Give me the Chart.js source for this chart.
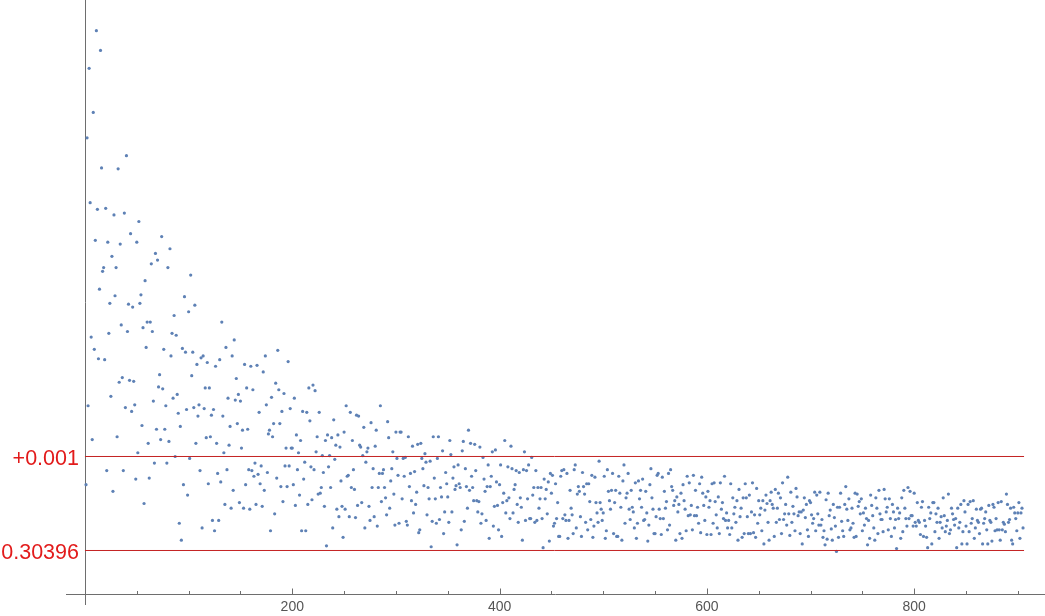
<!DOCTYPE html>
<html>
<head>
<meta charset="utf-8">
<title>Convergence scatter</title>
<script src="https://cdn.jsdelivr.net/npm/chart.js@4/dist/chart.umd.min.js"></script>
<style>
  html, body { margin: 0; padding: 0; background: #fff; }
</style>
</head>
<body>
<canvas id="chart" width="1045" height="616"></canvas>
<script>
// one value per step (steps 1..905)
const values = [
  0.30466, 0.30835, 0.30550, 0.30909, 0.30766, 0.30623, 0.30514, 0.30862, 0.30610, 0.30726,
  0.30949, 0.30759, 0.30600, 0.30674, 0.30928, 0.30803, 0.30693, 0.30697, 0.30599, 0.30760,
  0.30481, 0.30724, 0.30627, 0.30659, 0.30560, 0.30709, 0.30459, 0.30753, 0.30667, 0.30697,
  0.30517, 0.30802, 0.30575, 0.30722, 0.30636, 0.30580, 0.30481, 0.30755, 0.30548, 0.30816,
  0.30629, 0.30658, 0.30577, 0.30733, 0.30544, 0.30655, 0.30576, 0.30551, 0.30472, 0.30724,
  0.30500, 0.30746, 0.30659, 0.30668, 0.30529, 0.30633, 0.30446, 0.30683, 0.30612, 0.30639,
  0.30510, 0.30473, 0.30639, 0.30701, 0.30629, 0.30555, 0.30489, 0.30712, 0.30525, 0.30705,
  0.30570, 0.30583, 0.30514, 0.30730, 0.30568, 0.30610, 0.30525, 0.30550, 0.30489, 0.30697,
  0.30512, 0.30717, 0.30603, 0.30627, 0.30558, 0.30646, 0.30496, 0.30625, 0.30562, 0.30542, 0.30425,

  0.30528, 0.30407, 0.30611, 0.30466, 0.30666, 0.30607, 0.30546, 0.30455, 0.30650, 0.30494,
  0.30689, 0.30582, 0.30607, 0.30548, 0.30657, 0.30510, 0.30594, 0.30539, 0.30551, 0.30481,
  0.30601, 0.30420, 0.30603, 0.30547, 0.30569, 0.30516, 0.30596, 0.30467, 0.30569, 0.30517,
  0.30540, 0.30428, 0.30546, 0.30417, 0.30592, 0.30510, 0.30478, 0.30428, 0.30599, 0.30469,
  0.30639, 0.30539, 0.30500, 0.30445, 0.30612, 0.30482, 0.30558, 0.30508, 0.30528, 0.30441,
  0.30603, 0.30460, 0.30620, 0.30556, 0.30579, 0.30531, 0.30562, 0.30447, 0.30555, 0.30505,
  0.30524, 0.30441, 0.30594, 0.30466, 0.30569, 0.30525, 0.30482, 0.30440, 0.30592, 0.30481,
  0.30567, 0.30475, 0.30489, 0.30445, 0.30593, 0.30477, 0.30543, 0.30467, 0.30486, 0.30443,
  0.30586, 0.30460, 0.30603, 0.30551, 0.30479, 0.30520, 0.30524, 0.30417, 0.30559, 0.30517,
  0.30531, 0.30435, 0.30574, 0.30473,

  0.30609, 0.30567, 0.30531, 0.30464, 0.30544, 0.30448, 0.30563, 0.30486, 0.30505, 0.30464,
  0.30597, 0.30486, 0.30547, 0.30505, 0.30505, 0.30466, 0.30558, 0.30444, 0.30519, 0.30482,
  0.30500, 0.30455, 0.30513, 0.30417, 0.30544, 0.30472, 0.30490, 0.30417, 0.30543, 0.30445,
  0.30569, 0.30534, 0.30485, 0.30450, 0.30572, 0.30482, 0.30566, 0.30501, 0.30517, 0.30456,
  0.30543, 0.30457, 0.30463, 0.30497, 0.30479, 0.30443, 0.30513, 0.30401, 0.30519, 0.30485,
  0.30497, 0.30463, 0.30516, 0.30420, 0.30535, 0.30493, 0.30508, 0.30440, 0.30519, 0.30432,
  0.30506, 0.30470, 0.30443, 0.30410, 0.30522, 0.30440, 0.30550, 0.30475, 0.30476, 0.30432,
  0.30543, 0.30463, 0.30513, 0.30482, 0.30461, 0.30431, 0.30540, 0.30444, 0.30539, 0.30508,
  0.30506, 0.30447, 0.30497, 0.30527, 0.30420, 0.30490, 0.30501, 0.30505, 0.30443, 0.30428,
  0.30532,

  0.30463, 0.30483, 0.30432, 0.30507, 0.30524, 0.30422, 0.30463, 0.30478, 0.30550, 0.30448,
  0.30478, 0.30482, 0.30463, 0.30452, 0.30434, 0.30533, 0.30516, 0.30441, 0.30470, 0.30483,
  0.30501, 0.30456, 0.30423, 0.30522, 0.30494, 0.30476, 0.30425, 0.30522, 0.30522, 0.30451,
  0.30494, 0.30475, 0.30495, 0.30427, 0.30423, 0.30517, 0.30464, 0.30478, 0.30449, 0.30507,
  0.30436, 0.30480, 0.30445, 0.30458, 0.30509, 0.30415, 0.30418, 0.30510, 0.30494, 0.30483,
  0.30465, 0.30499, 0.30490, 0.30434, 0.30463, 0.30451, 0.30491, 0.30400, 0.30427, 0.30517,
  0.30473, 0.30451, 0.30425, 0.30494, 0.30517, 0.30429, 0.30463, 0.30453, 0.30502, 0.30414,
  0.30437, 0.30479, 0.30467, 0.30453, 0.30426, 0.30513, 0.30498, 0.30437, 0.30473, 0.30485,
  0.30461, 0.30465, 0.30402, 0.30487, 0.30467, 0.30463, 0.30418, 0.30502, 0.30512, 0.30427,
  0.30483,

  0.30464, 0.30441, 0.30524, 0.30460, 0.30510, 0.30475, 0.30463, 0.30449, 0.30509, 0.30481,
  0.30449, 0.30437, 0.30448, 0.30506, 0.30425, 0.30435, 0.30495, 0.30472, 0.30459, 0.30428,
  0.30464, 0.30487, 0.30409, 0.30464, 0.30475, 0.30501, 0.30422, 0.30443, 0.30503, 0.30469,
  0.30444, 0.30418, 0.30466, 0.30487, 0.30411, 0.30447, 0.30457, 0.30513, 0.30436, 0.30449,
  0.30485, 0.30452, 0.30430, 0.30507, 0.30483, 0.30436, 0.30461, 0.30466, 0.30481, 0.30445,
  0.30426, 0.30479, 0.30452, 0.30442, 0.30407, 0.30482, 0.30501, 0.30428, 0.30481, 0.30451,
  0.30487, 0.30430, 0.30430, 0.30495, 0.30455, 0.30463, 0.30426, 0.30481, 0.30428, 0.30463,
  0.30441, 0.30451, 0.30463, 0.30430, 0.30399, 0.30472, 0.30451, 0.30461, 0.30435, 0.30469,
  0.30406, 0.30478, 0.30457, 0.30476, 0.30422, 0.30425, 0.30467, 0.30430, 0.30447, 0.30411,

  0.30411, 0.30475, 0.30481, 0.30430, 0.30482, 0.30434, 0.30428, 0.30478, 0.30409, 0.30428,
  0.30460, 0.30441, 0.30434, 0.30414, 0.30482, 0.30487, 0.30420, 0.30456, 0.30464, 0.30459,
  0.30432, 0.30411, 0.30479, 0.30464, 0.30456, 0.30426, 0.30467, 0.30418, 0.30467, 0.30448,
  0.30429, 0.30476, 0.30410, 0.30422, 0.30474, 0.30447, 0.30436, 0.30426, 0.30491, 0.30447,
  0.30440, 0.30428, 0.30436, 0.30475, 0.30409, 0.30417, 0.30482, 0.30459, 0.30449, 0.30440,
  0.30460, 0.30478, 0.30414, 0.30447, 0.30460, 0.30411, 0.30411, 0.30475, 0.30457, 0.30442,
  0.30407, 0.30470, 0.30487, 0.30425, 0.30452, 0.30457, 0.30478, 0.30440, 0.30429, 0.30460,
  0.30442, 0.30437, 0.30420, 0.30468, 0.30409, 0.30425, 0.30470, 0.30451, 0.30460, 0.30442,
  0.30472, 0.30428, 0.30429, 0.30459, 0.30436, 0.30406, 0.30423, 0.30466, 0.30483, 0.30452,
  0.30440, 0.30414,

  0.30414, 0.30432, 0.30476, 0.30478, 0.30440, 0.30430, 0.30413, 0.30474, 0.30430, 0.30459,
  0.30441, 0.30448, 0.30418, 0.30478, 0.30423, 0.30482, 0.30464, 0.30460, 0.30444, 0.30449,
  0.30407, 0.30453, 0.30437, 0.30445, 0.30414, 0.30457, 0.30409, 0.30466, 0.30449, 0.30440,
  0.30417, 0.30475, 0.30433, 0.30468, 0.30434, 0.30444, 0.30418, 0.30476, 0.30433, 0.30460,
  0.30433, 0.30442, 0.30425, 0.30467, 0.30415, 0.30474, 0.30457, 0.30444, 0.30428, 0.30453,
  0.30413, 0.30459, 0.30442, 0.30449, 0.30413, 0.30467, 0.30425, 0.30468, 0.30448, 0.30434,
  0.30420, 0.30453, 0.30414, 0.30468, 0.30440, 0.30447, 0.30430, 0.30475, 0.30428, 0.30436,
  0.30420, 0.30428, 0.30413, 0.30467, 0.30420, 0.30452, 0.30435, 0.30442, 0.30426, 0.30449,
  0.30407, 0.30461, 0.30432, 0.30441, 0.30410, 0.30452, 0.30414, 0.30467, 0.30452, 0.30432,
  0.30414,

  0.30455, 0.30414, 0.30437, 0.30468, 0.30415, 0.30434, 0.30410, 0.30462, 0.30425, 0.30449,
  0.30434, 0.30441, 0.30417, 0.30449, 0.30403, 0.30439, 0.30455, 0.30446, 0.30426, 0.30407,
  0.30449, 0.30458, 0.30445, 0.30441, 0.30411, 0.30461, 0.30426, 0.30441, 0.30457, 0.30429,
  0.30452, 0.30414, 0.30468, 0.30429, 0.30435, 0.30445, 0.30423, 0.30474, 0.30435, 0.30412,
  0.30458, 0.30426, 0.30443, 0.30435, 0.30417, 0.30462, 0.30453, 0.30433, 0.30437, 0.30414,
  0.30437, 0.30403, 0.30439, 0.30452, 0.30431, 0.30445, 0.30418, 0.30411, 0.30449, 0.30447,
  0.30434, 0.30425, 0.30430, 0.30458, 0.30417, 0.30455, 0.30435, 0.30423, 0.30458, 0.30423,
  0.30429, 0.30410, 0.30417, 0.30402, 0.30450, 0.30408, 0.30457, 0.30433, 0.30439, 0.30419,
  0.30407, 0.30445, 0.30431, 0.30422, 0.30395, 0.30442, 0.30410, 0.30442, 0.30457, 0.30427,
  0.30417, 0.30411, 0.30445,

  0.30464, 0.30440, 0.30428, 0.30451, 0.30418, 0.30420, 0.30441, 0.30425, 0.30410, 0.30457,
  0.30411, 0.30456, 0.30443, 0.30448, 0.30435, 0.30451, 0.30417, 0.30436, 0.30423, 0.30441,
  0.30430, 0.30402, 0.30428, 0.30409, 0.30455, 0.30444, 0.30433, 0.30420, 0.30407, 0.30452,
  0.30441, 0.30414, 0.30460, 0.30435, 0.30429, 0.30429, 0.30416, 0.30461, 0.30451, 0.30437,
  0.30442, 0.30418, 0.30451, 0.30430, 0.30411, 0.30445, 0.30437, 0.30420, 0.30429, 0.30398,
  0.30441, 0.30430, 0.30436, 0.30409, 0.30452, 0.30416, 0.30460, 0.30441, 0.30430, 0.30422,
  0.30463, 0.30430, 0.30459, 0.30433, 0.30433, 0.30422, 0.30457, 0.30426, 0.30422, 0.30447,
  0.30428, 0.30426, 0.30413, 0.30442, 0.30448, 0.30411, 0.30428, 0.30422, 0.30410, 0.30399,
  0.30442, 0.30430, 0.30436, 0.30403, 0.30447, 0.30447, 0.30416, 0.30435, 0.30426, 0.30441,
  0.30409,

  0.30426, 0.30432, 0.30420, 0.30452, 0.30433, 0.30416, 0.30422, 0.30428, 0.30456, 0.30414,
  0.30418, 0.30441, 0.30435, 0.30429, 0.30423, 0.30430, 0.30399, 0.30441, 0.30420, 0.30426,
  0.30445, 0.30403, 0.30416, 0.30449, 0.30437, 0.30422, 0.30403, 0.30445, 0.30416, 0.30448,
  0.30425, 0.30430, 0.30449, 0.30409, 0.30420, 0.30440, 0.30428, 0.30426, 0.30414, 0.30440,
  0.30441, 0.30403, 0.30425, 0.30430, 0.30437, 0.30418, 0.30403, 0.30444, 0.30428, 0.30426,
  0.30406, 0.30445, 0.30442, 0.30417, 0.30430, 0.30418, 0.30447, 0.30418, 0.30407, 0.30448,
  0.30418, 0.30426, 0.30424, 0.30416, 0.30456, 0.30445, 0.30426, 0.30429, 0.30441, 0.30407,
  0.30403, 0.30442, 0.30436, 0.30430, 0.30417, 0.30436, 0.30447, 0.30409, 0.30436, 0.30441,
  0.30420
];

// red reference levels and what is written next to them
const refLevels = [0.30396, 0.30496];
const refLabels = ["0.30396", "+0.001"];
const refEnd = 906;

const xTicks = [200, 400, 600, 800];
const xMinorTicks = [50, 100, 150, 250, 300, 350, 450, 500, 550, 650, 700, 750, 850, 900];

const axisLevel = 0.3035;   // where the horizontal axis crosses

const points = values.map((v, i) => ({ x: i + 1, y: v }));

const lineRed = "#c42222";
const textRed = "#e21b1b";

const axesPlugin = {
  id: "mmaAxes",
  beforeDatasetsDraw(chart) {
    const { ctx, chartArea, scales: { x, y } } = chart;
    const x0 = Math.round(x.getPixelForValue(0)) + 0.5;
    const ya = Math.round(y.getPixelForValue(axisLevel)) + 0.5;
    ctx.save();
    ctx.strokeStyle = "#6e6e6e";
    ctx.lineWidth = 1;
    ctx.beginPath();
    ctx.moveTo(x0, chartArea.top);
    ctx.lineTo(x0, chartArea.bottom);
    ctx.moveTo(chartArea.left, ya);
    ctx.lineTo(chartArea.right, ya);
    xMinorTicks.forEach(v => {
      const p = Math.round(x.getPixelForValue(v)) + 0.5;
      ctx.moveTo(p, ya);
      ctx.lineTo(p, ya - 3.5);
    });
    xTicks.forEach(v => {
      const p = Math.round(x.getPixelForValue(v)) + 0.5;
      ctx.moveTo(p, ya);
      ctx.lineTo(p, ya - 6);
    });
    ctx.stroke();

    ctx.fillStyle = "#555555";
    ctx.font = "14px 'Liberation Sans', Arial, sans-serif";
    ctx.textAlign = "center";
    ctx.textBaseline = "alphabetic";
    xTicks.forEach(v => ctx.fillText(String(v), x.getPixelForValue(v), ya + 16.5));
    ctx.restore();
  },
  afterDatasetsDraw(chart) {
    const { ctx, scales: { x, y } } = chart;
    const x0 = x.getPixelForValue(0);
    ctx.save();
    ctx.fillStyle = textRed;
    ctx.font = "21.5px 'Liberation Sans', Arial, sans-serif";
    ctx.textAlign = "right";
    ctx.textBaseline = "alphabetic";
    refLevels.forEach((lvl, i) => {
      ctx.fillText(refLabels[i], x0 - 6, y.getPixelForValue(lvl) + 8.5);
    });
    ctx.restore();
  }
};

new Chart(document.getElementById("chart"), {
  type: "scatter",
  data: {
    datasets: [
      {
        label: "lower",
        data: [{ x: 0, y: refLevels[0] }, { x: refEnd, y: refLevels[0] }],
        showLine: true,
        borderColor: lineRed,
        backgroundColor: lineRed,
        borderWidth: 1,
        pointRadius: 0
      },
      {
        label: "upper",
        data: [{ x: 0, y: refLevels[1] }, { x: refEnd, y: refLevels[1] }],
        showLine: true,
        borderColor: lineRed,
        backgroundColor: lineRed,
        borderWidth: 1,
        pointRadius: 0
      },
      {
        label: "values",
        data: points,
        backgroundColor: "#5e81b5",
        borderColor: "#5e81b5",
        borderWidth: 0,
        pointRadius: 1.6
      }
    ]
  },
  options: {
    responsive: false,
    animation: false,
    devicePixelRatio: 1,
    events: [],
    layout: { autoPadding: false, padding: { left: 66, right: 0, top: 0, bottom: 11 } },
    plugins: { legend: { display: false }, tooltip: { enabled: false } },
    scales: {
      x: { type: "linear", display: false, min: -18.3, max: 926.2 },
      y: { type: "linear", display: false, min: 0.3033802, max: 0.3098164 }
    }
  },
  plugins: [axesPlugin]
});
</script>
</body>
</html>
